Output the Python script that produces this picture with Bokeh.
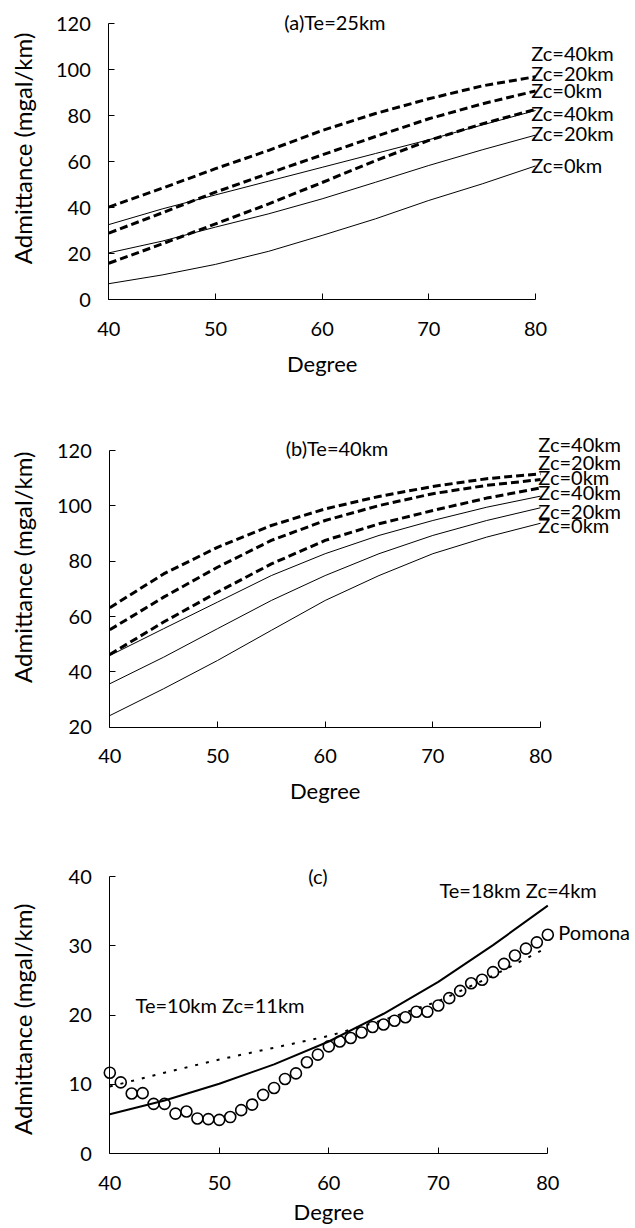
from math import pi

from bokeh.embed import file_html
from bokeh.layouts import column
from bokeh.models import FixedTicker, Label, LinearAxis, Range1d
from bokeh.plotting import figure
from bokeh.resources import INLINE

FONT = "Lato"
W = 635

# spherical-harmonic degree at which the model curves are sampled
deg = [40, 45, 50, 55, 60, 65, 70, 75, 80]

# (a) Te = 25 km : admittance (mgal/km), dashed and solid families
a_dash_zc40 = [40.3, 48.5, 57.0, 65.0, 73.6, 81.0, 87.4, 93.0, 97.0]
a_dash_zc20 = [29.0, 37.8, 46.8, 55.0, 63.0, 71.0, 78.7, 85.2, 90.8]
a_dash_zc0 = [15.9, 24.3, 33.0, 41.7, 51.0, 60.5, 69.3, 76.5, 82.8]
a_solid_zc40 = [32.7, 39.5, 45.6, 51.6, 57.6, 63.6, 69.6, 76.0, 82.3]
a_solid_zc20 = [20.4, 25.5, 31.6, 37.4, 43.9, 51.1, 58.4, 65.2, 71.6]
a_solid_zc0 = [7.0, 10.8, 15.4, 21.1, 28.0, 35.2, 43.2, 50.4, 58.2]

# (b) Te = 40 km
b_dash_zc40 = [63.2, 75.4, 85.0, 92.9, 98.9, 103.4, 107.0, 109.8, 111.6]
b_dash_zc20 = [55.2, 67.0, 77.8, 87.5, 94.7, 100.1, 104.4, 107.4, 109.5]
b_dash_zc0 = [46.3, 58.0, 68.8, 79.0, 87.5, 93.5, 98.3, 102.8, 106.5]
b_solid_zc40 = [45.9, 55.6, 65.2, 74.8, 82.7, 89.3, 94.7, 99.5, 103.5]
b_solid_zc20 = [35.7, 45.3, 55.6, 65.8, 74.8, 82.7, 89.3, 94.7, 99.3]
b_solid_zc0 = [24.2, 33.9, 44.1, 55.0, 65.8, 74.8, 82.7, 88.7, 93.7]

zc_names = ["Zc=40km", "Zc=20km", "Zc=0km", "Zc=40km", "Zc=20km", "Zc=0km"]

# (c) observed Pomona admittance, one value per degree 40..80
obs_deg = list(range(40, 81))
pomona = [11.7, 10.3, 8.7, 8.75, 7.2, 7.2, 5.8, 6.1, 5.1, 5.0,
          4.9, 5.3, 6.3, 7.1, 8.5, 9.5, 10.8, 11.6, 13.2, 14.3,
          15.5, 16.2, 16.7, 17.5, 18.3, 18.65, 19.2, 19.7, 20.5, 20.5,
          21.4, 22.45, 23.5, 24.6, 25.1, 26.2, 27.4, 28.6, 29.6, 30.5,
          31.6]
# best-fitting model curves
c_te18_zc4 = [5.7, 7.7, 10.1, 12.9, 16.2, 20.2, 24.8, 30.1, 35.8]
c_te10_zc11 = [9.7, 11.7, 13.6, 15.3, 17.0, 19.3, 22.0, 25.7, 29.8]


def panel(h, px40, px80, py_top, py_bot, y0, y1, ystep):
    """Figure whose frame fills the canvas; the plot box sits at the given
    pixel position and the axes are pinned to x=40 and y=y0."""
    kx = (px80 - px40) / 40.0
    xs = 40 - px40 / kx
    ky = (py_bot - py_top) / float(y1 - y0)
    ys = y0 - (h - py_bot) / ky
    ye = y1 + py_top / ky
    p = figure(width=W, height=h, min_border=0,
               x_range=Range1d(xs, xs + W / kx), y_range=Range1d(ys, ye),
               x_axis_location=None, y_axis_location=None,
               output_backend="svg", toolbar_location=None)
    p.outline_line_color = None
    p.grid.visible = False
    p.background_fill_color = "white"
    p.border_fill_color = "white"

    xaxis = LinearAxis(fixed_location=y0, bounds=(40, 80),
                       ticker=FixedTicker(ticks=[40, 50, 60, 70, 80]),
                       major_label_standoff=22)
    yaxis = LinearAxis(fixed_location=40, bounds=(y0, y1),
                       ticker=FixedTicker(ticks=list(range(y0, y1 + 1, ystep))),
                       major_label_standoff=18)
    for ax in (xaxis, yaxis):
        ax.major_tick_in = 6
        ax.major_tick_out = 0
        ax.minor_tick_in = 0
        ax.minor_tick_out = 0
        ax.axis_line_color = "black"
        ax.axis_line_width = 1
        ax.major_tick_line_color = "black"
        ax.major_label_text_font = FONT
        ax.major_label_text_font_size = "20px"
        ax.major_label_text_color = "black"
    p.add_layout(xaxis, "below")
    p.add_layout(yaxis, "left")
    return p, xs + 22 / kx


def text(p, x, y, s, align="left", size="20px", angle=0.0):
    p.add_layout(Label(x=x, y=y, text=s, text_align=align,
                       text_baseline="middle", text_font=FONT,
                       text_font_size=size, text_color="black", angle=angle))


def axis_titles(p, ylab_x, ylab_y, deg_y):
    text(p, 60, deg_y, "Degree", align="center", size="22px")
    text(p, ylab_x, ylab_y, "Admittance (mgal/km)", align="center",
         size="24px", angle=pi / 2)


def model_families(p, dashed, solid):
    for ys in dashed:
        p.line(deg, ys, line_color="black", line_width=3, line_dash="8 4")
    for ys in solid:
        p.line(deg, ys, line_color="black", line_width=1)


# ---- (a)
pa, ylx = panel(410, 108.3, 535.0, 23.3, 299.3, 0, 120, 20)
model_families(pa, [a_dash_zc40, a_dash_zc20, a_dash_zc0],
               [a_solid_zc40, a_solid_zc20, a_solid_zc0])
text(pa, 61.2, 121.0, "(a)Te=25km", align="center")
for name, y in zip(zc_names, [107.1, 98.4, 91.4, 81.4, 72.7, 58.8]):
    text(pa, 79.6, y, name)
axis_titles(pa, ylx, 65.8, -27.7)

# ---- (b)
pb, ylx = panel(410, 109.3, 540.0, 40.0, 316.7, 20, 120, 20)
model_families(pb, [b_dash_zc40, b_dash_zc20, b_dash_zc0],
               [b_solid_zc40, b_solid_zc20, b_solid_zc0])
text(pb, 61.1, 120.8, "(b)Te=40km", align="center")
for name, y in zip(zc_names, [122.4, 115.8, 110.4, 104.9, 98.3, 92.9]):
    text(pb, 79.8, y, name)
axis_titles(pb, ylx, 77.8, -2.9)

# ---- (c)
pc, ylx = panel(408, 109.3, 547.3, 56.0, 333.3, 0, 40, 10)
pc.line(deg, c_te18_zc4, line_color="black", line_width=2)
pc.line(deg, c_te10_zc11, line_color="black", line_width=2, line_dash="3 8")
pc.scatter(obs_deg, pomona, marker="circle", size=11, line_color="black",
           line_width=1.6, fill_alpha=0)
text(pc, 59.0, 40.1, "(c)", align="center")
text(pc, 70.1, 38.1, "Te=18km Zc=4km")
text(pc, 42.35, 21.4, "Te=10km Zc=11km")
text(pc, 80.96, 32.0, "Pomona")
axis_titles(pc, ylx, 19.4, -8.3)

layout = column(pa, pb, pc)
open("out.html", "w").write(file_html(layout, INLINE))
